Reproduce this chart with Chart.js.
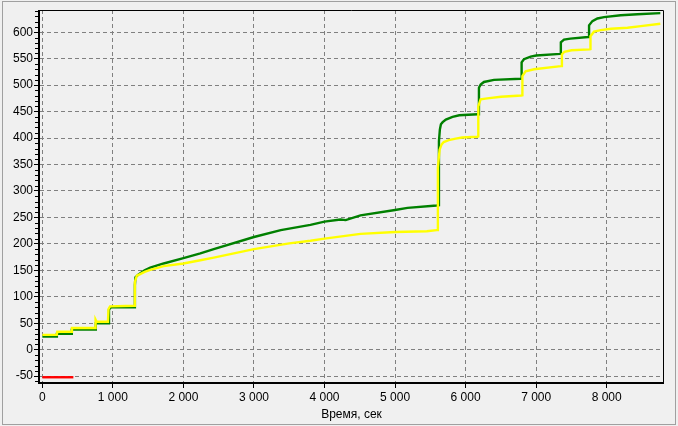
<!DOCTYPE html>
<html>
<head>
<meta charset="utf-8">
<script src="https://cdn.jsdelivr.net/npm/chart.js@4/dist/chart.umd.min.js"></script>
<style>
  html, body { margin: 0; padding: 0; background: #f0f0f0; }
  #wrap { width: 678px; height: 426px; }
</style>
</head>
<body>
<div id="wrap"><canvas id="chart" width="678" height="426"></canvas></div>
<script>
// Tick labels
const xTicks = [0, 1000, 2000, 3000, 4000, 5000, 6000, 7000, 8000];
const yTicks = [-50, 0, 50, 100, 150, 200, 250, 300, 350, 400, 450, 500, 550, 600];

// Green series (time, value)
const greenTime = [0, 200, 206, 410, 418, 752, 758, 932, 945, 970, 1300, 1312, 1320, 1360, 1450, 1530, 1720, 2000, 2240, 2430,
  3000, 3380, 3800, 4000, 4227, 4300, 4510, 5000, 5177, 5590, 5622, 5622, 5635, 5650, 5675, 5720, 5815, 5910, 6170, 6189,
  6189, 6213, 6260, 6402, 6780, 6794, 6794, 6827, 6922, 7000, 7340, 7350, 7350, 7395, 7485, 7735, 7750, 7750, 7797, 7868,
  7962, 8199, 8435, 8760];
const greenValue = [25, 25, 30, 30, 38, 38, 50, 50, 76, 80, 80, 122, 137, 142, 150, 155, 163, 173, 182, 190,
  213, 226, 236, 242, 246, 245, 254, 264, 268, 272.5, 273, 394, 416, 426, 430, 435, 440, 443, 445, 445,
  495, 501, 506, 510, 512, 512, 543, 549, 554, 556, 559, 559, 581, 586, 588, 591, 591, 613, 621, 626,
  628.5, 632, 634, 636];

// Yellow series (time, value)
const yellowTime = [0, 205, 212, 414, 420, 750, 755, 770, 930, 938, 960, 1300, 1312, 1340, 1386, 1450, 1530, 1720, 2000, 2240,
  2430, 3000, 3500, 3800, 4000, 4510, 5000, 5450, 5590, 5607, 5607, 5620, 5632, 5660, 5690, 5760, 5860, 5950, 6170, 6180,
  6180, 6213, 6307, 6500, 6790, 6805, 6805, 6850, 6970, 7350, 7365, 7365, 7400, 7500, 7760, 7770, 7770, 7820, 7915, 8060,
  8295, 8485, 8760];
const yellowValue = [28, 28, 34, 34, 41, 41, 57, 53, 53, 77, 82, 83, 128, 140, 143, 147, 151, 158, 163, 169,
  174, 190, 201, 206, 210, 219, 222.5, 224, 226, 226, 344, 363, 378, 388, 392.5, 396, 399, 401, 402.5, 403,
  460, 473, 475, 478, 480.5, 481, 517, 526, 530, 536, 536, 558, 563, 566, 567.5, 568, 592.5, 601, 604, 606.5,
  608.5, 611.5, 616];

// Red series
const redTime = [0, 440];
const redValue = [-52, -52];

const toPoints = (ts, vs) => ts.map((t, i) => ({ x: t, y: vs[i] }));
const fmt = v => String(v).replace(/\B(?=(\d{3})+(?!\d))/g, ' ');

// background, frame and minor ticks
const framePlugin = {
  id: 'frame',
  beforeDraw(chart) {
    const ctx = chart.ctx;
    ctx.save();
    ctx.fillStyle = '#f0f0f0';
    ctx.fillRect(0, 0, chart.width, chart.height);
    ctx.strokeStyle = '#a0a0a0';
    ctx.lineWidth = 1;
    ctx.strokeRect(2.5, 1.5, 673, 423);
    ctx.restore();
  },
  afterDatasetsDraw(chart) {
    const { ctx, chartArea: a } = chart;
    const ys = chart.scales.y;
    ctx.save();
    ctx.strokeStyle = '#000';
    ctx.lineWidth = 1;
    ctx.beginPath();
    ctx.moveTo(a.left, a.top + 0.5);
    ctx.lineTo(a.right + 0.5, a.top + 0.5);
    ctx.lineTo(a.right + 0.5, a.bottom);
    ctx.stroke();
    ctx.lineWidth = 2;
    ctx.beginPath();
    ctx.moveTo(a.left - 1, a.top);
    ctx.lineTo(a.left - 1, a.bottom + 1);
    ctx.lineTo(a.right + 1, a.bottom + 1);
    ctx.stroke();
    // minor ticks on the value axis
    ctx.lineWidth = 1;
    ctx.beginPath();
    for (let v = -60; v <= 640; v += 10) {
      if (v % 50 === 0) continue;
      const y = Math.round(ys.getPixelForValue(v)) + 0.5;
      ctx.moveTo(a.left - 5, y);
      ctx.lineTo(a.left - 2, y);
    }
    ctx.stroke();
    ctx.restore();
  }
};

const font = { family: 'Liberation Sans, Arial, sans-serif', size: 12 };

new Chart(document.getElementById('chart'), {
  type: 'line',
  data: {
    datasets: [
      { data: toPoints(greenTime, greenValue), borderColor: '#008000', borderWidth: 2.4, order: 3 },
      { data: toPoints(yellowTime, yellowValue), borderColor: '#ffff00', borderWidth: 2.4, order: 2 },
      { data: toPoints(redTime, redValue), borderColor: '#ff0000', borderWidth: 2.4, order: 1 }
    ]
  },
  options: {
    responsive: false,
    animation: false,
    events: [],
    elements: { point: { radius: 0 }, line: { tension: 0 } },
    layout: { padding: { left: 0, top: 10, right: 15, bottom: 0 } },
    plugins: { legend: { display: false }, tooltip: { enabled: false } },
    scales: {
      x: {
        type: 'linear',
        min: -33,
        max: 8798,
        afterBuildTicks: s => { s.ticks = xTicks.map(v => ({ value: v })); },
        afterFit: s => { s.height = 44; },
        ticks: { font, color: '#000', padding: 2, maxRotation: 0, autoSkip: false, callback: v => fmt(v) },
        grid: { color: '#808080', tickColor: '#000', tickLength: 6, tickBorderDash: [] },
        border: { display: false, dash: [4, 3] },
        title: { display: true, text: 'Время, сек', font, color: '#000', padding: { top: 0, bottom: 4 } }
      },
      y: {
        min: -61,
        max: 642,
        afterBuildTicks: s => { s.ticks = yTicks.map(v => ({ value: v })); },
        afterFit: s => { s.width = 40; },
        ticks: { font, color: '#000', padding: 1, autoSkip: false },
        grid: { color: '#808080', tickColor: '#000', tickLength: 6, tickBorderDash: [] },
        border: { display: false, dash: [4, 3] }
      }
    }
  },
  plugins: [framePlugin]
});
</script>
</body>
</html>
